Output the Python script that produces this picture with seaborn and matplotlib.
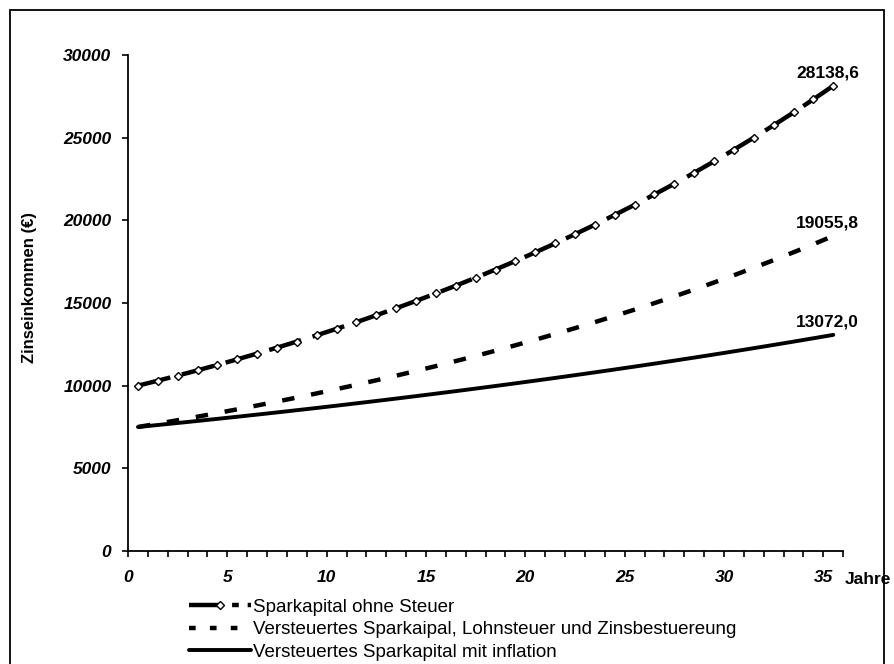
import pandas as pd
import seaborn as sns
import matplotlib.pyplot as plt
from matplotlib.ticker import MultipleLocator
from matplotlib.patches import Rectangle
from matplotlib.lines import Line2D

# Daten ---------------------------------------------------------------
jahre = [i + 0.5 for i in range(36)]

ohne_steuer = [10000.0, 10300.0, 10609.0, 10927.3, 11255.1, 11592.7, 11940.5, 12298.7,
               12667.7, 13047.7, 13439.2, 13842.3, 14257.6, 14685.3, 15125.9, 15579.7,
               16047.1, 16528.5, 17024.3, 17535.1, 18061.1, 18603.0, 19161.0, 19735.9,
               20327.9, 20937.8, 21565.9, 22212.9, 22879.3, 23565.7, 24272.6, 25000.8,
               25750.8, 26523.4, 27319.1, 28138.6]

versteuert = [7500.0, 7702.5, 7910.5, 8124.1, 8343.4, 8568.7, 8800.0, 9037.6,
              9281.7, 9532.3, 9789.6, 10054.0, 10325.4, 10604.2, 10890.5, 11184.6,
              11486.5, 11796.7, 12115.2, 12442.3, 12778.2, 13123.2, 13477.6, 13841.5,
              14215.2, 14599.0, 14993.2, 15398.0, 15813.7, 16240.7, 16679.2, 17129.5,
              17592.0, 18067.0, 18554.8, 19055.8]

inflation = [7500.0, 7620.0, 7741.9, 7865.8, 7991.6, 8119.5, 8249.4, 8381.4,
             8515.5, 8651.8, 8790.2, 8930.8, 9073.7, 9218.9, 9366.4, 9516.3,
             9668.5, 9823.2, 9980.4, 10140.1, 10302.3, 10467.2, 10634.6, 10804.8,
             10977.7, 11153.3, 11331.8, 11513.1, 11697.3, 11884.4, 12074.6, 12267.8,
             12464.1, 12663.5, 12866.1, 13072.0]

namen = ["Sparkapital ohne Steuer",
         "Versteuertes Sparkaipal, Lohnsteuer und Zinsbestuereung",
         "Versteuertes Sparkapital mit inflation"]

df = pd.DataFrame({"Jahr": jahre, namen[0]: ohne_steuer,
                   namen[1]: versteuert, namen[2]: inflation})

# Plot ----------------------------------------------------------------
sns.set_style("white", {"text.color": "black", "axes.labelcolor": "black",
                        "xtick.color": "black", "ytick.color": "black"})
plt.rcParams['font.family'] = ['Liberation Sans', 'DejaVu Sans']

fig = plt.figure(figsize=(8.94, 6.64), dpi=100)
ax = fig.add_axes([0.1432, 0.1702, 0.8, 0.747])

sns.lineplot(x="Jahr", y=namen[0], data=df, ax=ax, color="black", linewidth=3.2,
             marker="D", markersize=4.5, markerfacecolor="white",
             markeredgecolor="black", markeredgewidth=1.0)
ax.lines[-1].set_dashes((7.5, 2.7))

sns.lineplot(x="Jahr", y=namen[1], data=df, ax=ax, color="black", linewidth=3.2)
ax.lines[-1].set_dashes((2.8, 3.8))

sns.lineplot(x="Jahr", y=namen[2], data=df, ax=ax, color="black", linewidth=2.8)

ax.set_xlim(0, 36)
ax.set_ylim(0, 30000)
ax.xaxis.set_major_locator(MultipleLocator(5))
ax.xaxis.set_minor_locator(MultipleLocator(1))
ax.yaxis.set_major_locator(MultipleLocator(5000))
ax.tick_params(axis="both", which="both", direction="out", length=4, width=1.2,
               color="black", labelcolor="black", bottom=True, left=True)
ax.tick_params(axis="x", pad=10)
ax.tick_params(axis="y", pad=8)
for lbl in ax.get_xticklabels() + ax.get_yticklabels():
    lbl.set_fontsize(12.5)
    lbl.set_fontweight("bold")
    lbl.set_fontstyle("italic")

sns.despine(ax=ax)
for s in ["left", "bottom"]:
    ax.spines[s].set_color("black")
    ax.spines[s].set_linewidth(1.3)

ax.set_xlabel("")
ax.set_ylabel("Zinseinkommen (€)", fontsize=12, fontweight="bold", color="black")
ax.yaxis.set_label_coords(-0.127, 0.532)
fig.text(845 / 894, 1 - 580 / 664, "Jahre", fontsize=12.5, fontweight="bold",
         ha="left", va="center", color="black")

# Endwerte
for werte in [ohne_steuer, versteuert, inflation]:
    ax.annotate(f"{werte[-1]:.1f}".replace(".", ","), (jahre[-1], werte[-1]),
                xytext=(-4, 4), textcoords="offset points", color="black",
                fontsize=12.5, fontweight="bold", ha="center", va="bottom")

# Legende
handles = [Line2D([], [], color="black", linewidth=3.2, dashes=(7.5, 2.2, 1.5, 2),
                  marker="D", markersize=4, markerfacecolor="white", markevery=[1]),
           Line2D([], [], color="black", linewidth=3.2, dashes=(1.5, 3.2)),
           Line2D([], [], color="black", linewidth=2.8)]
leg = fig.legend(handles, namen, loc="upper left", bbox_to_anchor=(189 / 894, 0.098),
                 frameon=False, fontsize=13.5, handlelength=3.3, handletextpad=0.1,
                 labelspacing=0.28, borderaxespad=0, borderpad=0)
for t in leg.get_texts():
    t.set_color("black")

fig.patches.append(Rectangle((0.011, -0.01), 0.978, 0.995, transform=fig.transFigure,
                             fill=False, edgecolor="black", linewidth=1.3))

fig.savefig("out.png", dpi=100)
